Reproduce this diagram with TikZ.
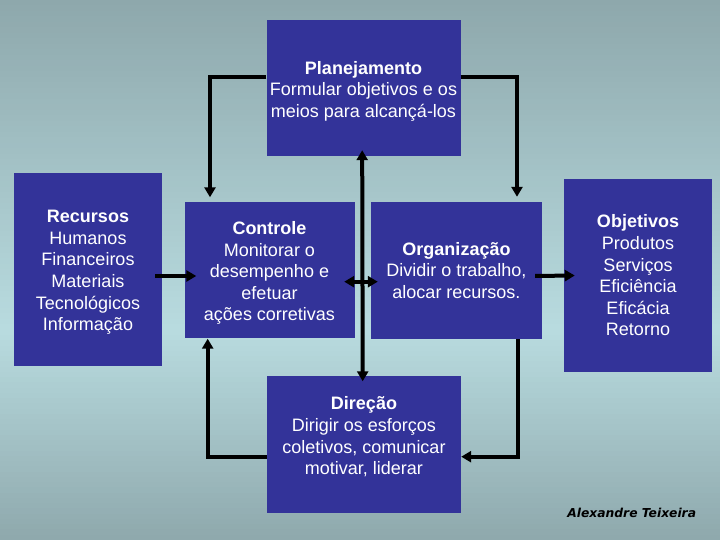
\documentclass[tikz,border=0pt]{standalone}
\usepackage{fontspec}
\setmainfont{Liberation Sans}
\newfontfamily\sigfont{DejaVu Sans}
\usetikzlibrary{arrows.meta}
\definecolor{bgtop}{HTML}{8EA8AC}
\definecolor{bgmid}{HTML}{B8DBDF}
\definecolor{bgbot}{HTML}{8FA9AD}
\definecolor{boxblue}{HTML}{333399}
\tikzset{
  x=1pt,y=1pt,
  bluebox/.style={fill=boxblue, draw=none, inner sep=0pt},
  boxtext/.style={text=white, align=center, inner sep=0pt, font=\fontsize{18}{21.6}\selectfont},
  conn/.style={line width=4pt, draw=black, -{Triangle[width=11pt,length=10pt]}},
  conn2/.style={line width=4pt, draw=black, {Triangle[width=11pt,length=10pt]}-{Triangle[width=11pt,length=10pt]}},
  sig/.style={font=\sigfont\bfseries\itshape\fontsize{12.3}{15}\selectfont, text=black, inner sep=0pt}
}
\begin{document}
\begin{tikzpicture}
\useasboundingbox (0,0) rectangle (720,540);
% background gradient, drawn in strips (y measured from the top)
\foreach \i in {0,...,59}{
  \pgfmathsetmacro{\ya}{540-\i*5.5}
  \pgfmathsetmacro{\yb}{540-(\i+1)*5.5-0.6}
  \pgfmathsetmacro{\p}{100-\i*100/59}
  \fill[bgtop!\p!bgmid] (0,\ya) rectangle (720,\yb);
}
\foreach \i in {0,...,39}{
  \pgfmathsetmacro{\ya}{210-\i*5.25}
  \pgfmathsetmacro{\yb}{210-(\i+1)*5.25-0.6}
  \pgfmathsetmacro{\p}{100-\i*100/39}
  \fill[bgmid!\p!bgbot] (0,\ya) rectangle (720,\yb);
}

\node[bluebox, minimum width=194pt, minimum height=136pt] (plan) at (363.5,452) {};
\node[bluebox, minimum width=148pt, minimum height=193pt] (rec) at (88,270) {};
\node[bluebox, minimum width=170pt, minimum height=136pt] (ctrl) at (269.5,269.5) {};
\node[bluebox, minimum width=171pt, minimum height=137pt] (org) at (456.5,269.5) {};
\node[bluebox, minimum width=148pt, minimum height=193pt] (obj) at (638,264.5) {};
\node[bluebox, minimum width=194pt, minimum height=137pt] (dir) at (364,95) {};

\node[boxtext] (plantext) at ([yshift=-3pt]plan.center)
  {\textbf{Planejamento}\\Formular objetivos e os\\meios para alcançá-los};
\node[boxtext] (rectext) at ([yshift=-2.5pt]rec.center)
  {\textbf{Recursos}\\Humanos\\Financeiros\\Materiais\\Tecnológicos\\Informação};
\node[boxtext] (ctrltext) at ([yshift=-2.5pt]ctrl.center)
  {\textbf{Controle}\\Monitorar o\\desempenho e\\efetuar\\ações corretivas};
\node[boxtext] (orgtext) at (org.center)
  {\textbf{Organização}\\Dividir o trabalho,\\alocar recursos.};
\node[boxtext] (objtext) at (obj.center)
  {\textbf{Objetivos}\\Produtos\\Serviços\\Eficiência\\Eficácia\\Retorno};
\node[boxtext] (dirtext) at ([yshift=8pt]dir.center)
  {\textbf{Direção}\\Dirigir os esforços\\coletivos, comunicar\\motivar, liderar};

\node[sig] (sign) at (631.7,27) {Alexandre Teixeira};

\coordinate (pl) at (210,463);
\coordinate (pr) at (517,463);
\draw[conn, shorten >=5pt] (plan.west |- pl) -- (pl) -- (pl |- ctrl.north);
\draw[conn, shorten >=5pt] (plan.east |- pr) -- (pr) -- (pr |- org.north);
\draw[conn2, shorten <=-5pt, shorten >=-6pt] ([xshift=-1.3pt]dir.north) -- ([xshift=-1.3pt]plan.south);
\draw[conn2] ([shift={(-10.5pt,-11.2pt)}]ctrl.east) -- ([shift={(7pt,-11.2pt)}]org.west);
\draw[conn] ([shift={(-7pt,-6pt)}]rec.east) -- ([shift={(12pt,-5.5pt)}]ctrl.west);
\draw[conn] ([shift={(-7pt,-5.5pt)}]org.east) -- ([xshift=11pt]obj.west);
\draw[conn] ([yshift=-11.7pt]dir.west) -| ([xshift=-61.8pt]ctrl.south);
\draw[conn] ([xshift=61.5pt]org.south) |- ([yshift=-11.7pt]dir.east);
\end{tikzpicture}
\end{document}
